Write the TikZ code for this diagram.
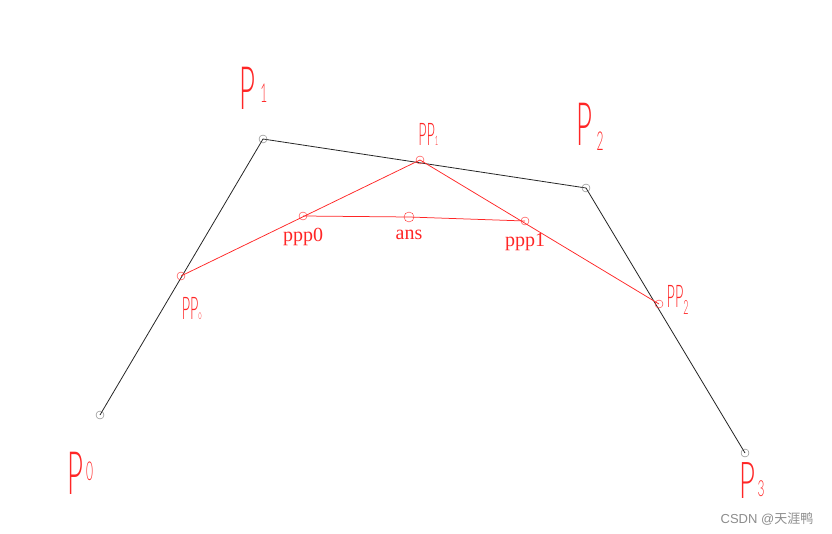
\documentclass[tikz,border=0pt]{standalone}
\usepackage{fontspec}
\setmainfont{Liberation Serif}
\setsansfont{Liberation Sans}
\newfontfamily\handfont{Lato}[UprightFont=* Light]
\newfontfamily\cjkfont{Noto Sans CJK SC}
\usetikzlibrary{
  positioning % for the labels below the typed points
}
\definecolor{pen}{RGB}{255,38,38}
\tikzset{
  ctrl/.style={ % the four control points
    circle,draw=black!55,thin, % drawn as a thin grey circle
    inner sep=0pt, % no padding
    minimum size=8pt,
  },
  mid/.style={ % the points found on the way
    ctrl,draw=pen, % same circle, in red
  },
  hull/.style={ % the control polygon
    draw=black!85,line width=0.8pt,
  },
  redline/.style={ % the red construction lines
    draw=pen,line width=0.75pt,
  },
  hand/.style={ % handwritten labels
    text=pen,font=\handfont\fontsize{46}{46}\selectfont,
    inner sep=0pt,xscale=0.6,yscale=1.3,
  },
  small/.style={ % smaller handwritten labels
    hand,font=\handfont\fontsize{24}{24}\selectfont,
  },
  typed/.style={ % the typed labels
    text=pen,font=\fontsize{20}{20}\selectfont,inner sep=1pt,
  },
}
\begin{document}
\begin{tikzpicture}[x=1pt,y=-1pt]
  \useasboundingbox (0,0) rectangle (832,534);

  \coordinate (P0) at (100,415);
  \coordinate (P1) at (263,139);
  \coordinate (P2) at (586,188);
  \coordinate (P3) at (745,453);
  \coordinate (pp0) at (181,276);
  \coordinate (pp1) at (420,160);
  \coordinate (pp2) at (659,304);
  \coordinate (ppp0) at (303,216);
  \coordinate (ppp1) at (525,221);
  \coordinate (ans) at (409,217);

  \draw[hull] (P0) -- (P1) -- (P2) -- (P3);
  \draw[redline] (pp0) -- (pp1) -- (pp2);
  \draw[redline] (ppp0) -- (ans) -- (ppp1);

  \node[ctrl] (c0) at (P0) {};
  \node[ctrl] (c1) at (P1) {};
  \node[ctrl] (c2) at (P2) {};
  \node[ctrl] (c3) at (P3) {};
  \node[mid] (m0) at (pp0) {};
  \node[mid] (m1) at (pp1) {};
  \node[mid] (m2) at (pp2) {};
  \node[mid] (n0) at (ppp0) {};
  \node[mid] (n1) at (ppp1) {};
  \node[mid,minimum size=10pt] (a) at (ans) {};

  \node[hand,xshift=-16pt,yshift=39pt] (lP1) at (P1)
  {P\hspace{8pt}\raisebox{5pt}{\fontsize{20}{20}\selectfont 1}};
  \node[hand,xshift=7pt,yshift=47pt] (lP2) at (P2)
  {P\hspace{6pt}\raisebox{-4pt}{\fontsize{20}{20}\selectfont 2}};
  \node[hand,xshift=-33pt,yshift=-45pt] (lP0) at (P0)
  {P\hspace{5pt}\raisebox{11pt}{\fontsize{20}{20}\selectfont 0}};
  \node[hand,yscale=0.85,xshift=12pt,yshift=-25pt] (lP3) at (P3)
  {P\hspace{3pt}\raisebox{2pt}{\fontsize{20}{20}\selectfont 3}};

  \node[small,xshift=14pt,yshift=20pt] (lpp1) at (pp1)
  {PP\raisebox{0pt}{\fontsize{10}{10}\selectfont 1}};
  \node[small,xshift=18pt,yshift=-25pt] (lpp0) at (pp0)
  {PP\raisebox{0pt}{\fontsize{10}{10}\selectfont o}};
  \node[small,xshift=31pt,yshift=3pt] (lpp2) at (pp2)
  {PP\raisebox{-5pt}{\fontsize{15}{15}\selectfont 2}};

  \node[typed,below=7pt of n0] (tn0) {ppp0};
  \node[typed,below=7pt of a] (ta) {ans};
  \node[typed,below=7pt of n1] (tn1) {ppp1};

  \node[text=black!45,font=\sffamily\fontsize{13}{13}\selectfont] (wm) at (767,519)
  {CSDN @{\cjkfont 天涯鸭}};
\end{tikzpicture}
\end{document}
